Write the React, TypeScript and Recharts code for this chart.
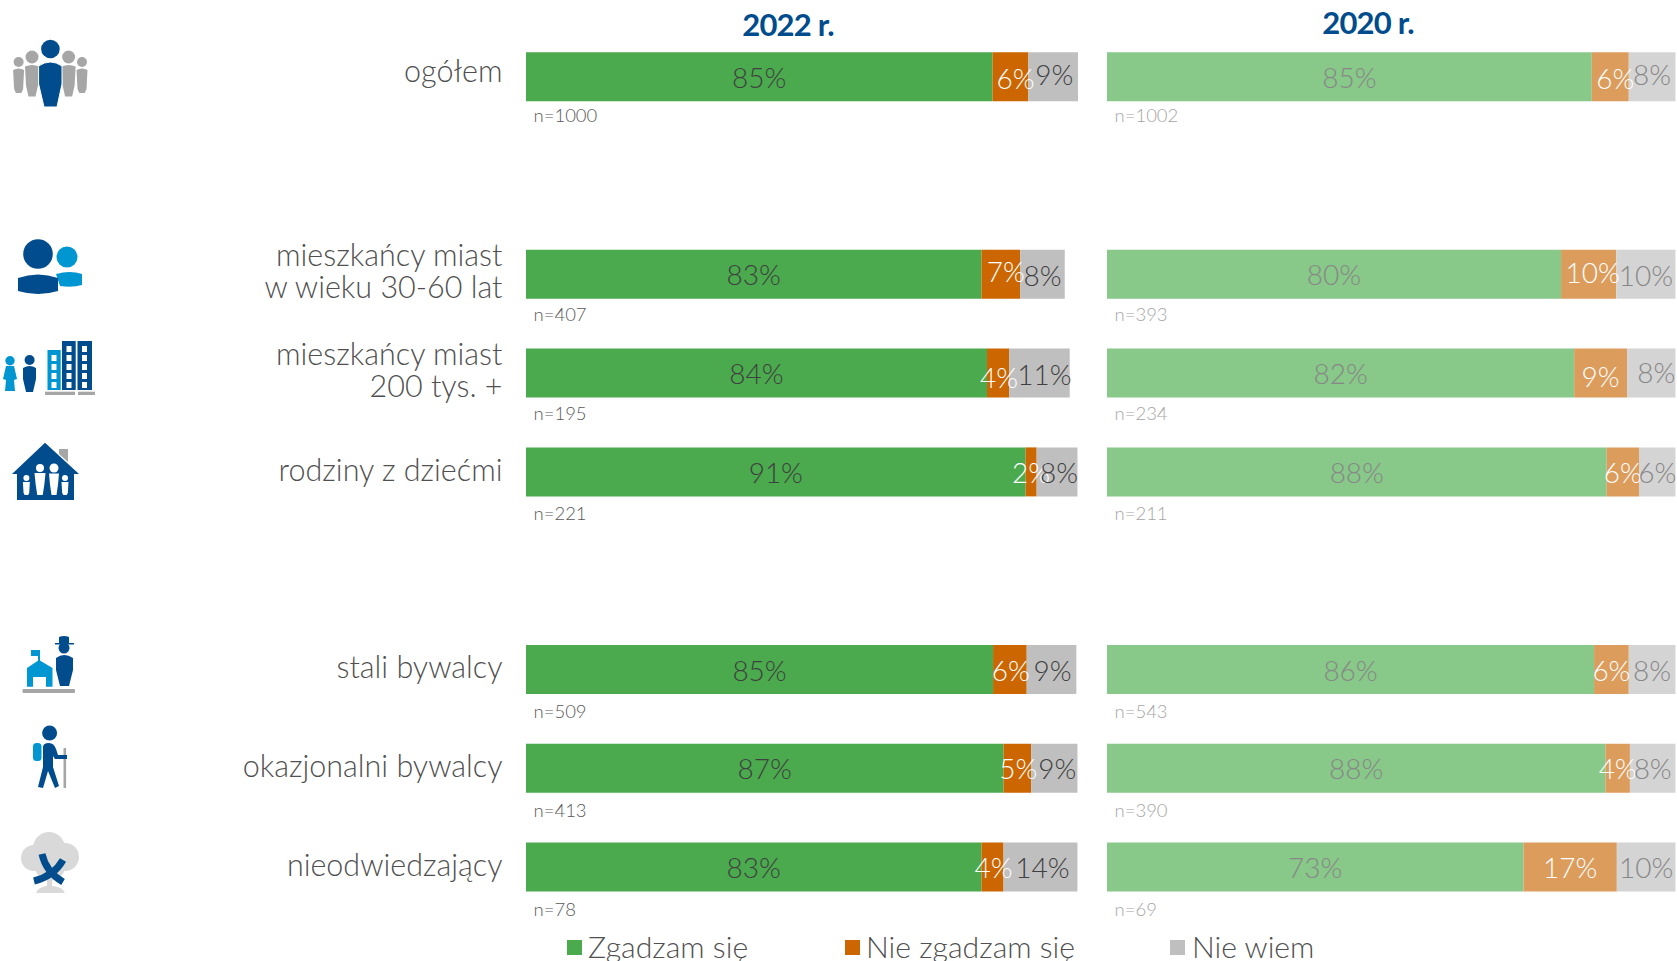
import { Bar, BarChart, LabelList, Legend, XAxis, YAxis } from 'recharts';

const FONT = 'Lato, "Open Sans", sans-serif';

// blank rows keep the gaps between the three groups
const categories = [
  'ogółem',
  ' ',
  'mieszkańcy miast\nw wieku 30-60 lat',
  'mieszkańcy miast\n200 tys. +',
  'rodziny z dziećmi',
  '  ',
  'stali bywalcy',
  'okazjonalni bywalcy',
  'nieodwiedzający',
];

const agree2022 = [84.6, null, 82.6, 83.6, 90.6, null, 84.7, 86.6, 82.6];
const disagree2022 = [6.5, null, 7.0, 4.0, 2.0, null, 6.1, 5.0, 4.0];
const dontKnow2022 = [9.0, null, 8.1, 11.0, 7.4, null, 9.0, 8.4, 13.4];
const agreeText2022 = ['85%', '', '83%', '84%', '91%', '', '85%', '87%', '83%'];
const disagreeText2022 = ['6%', '', '7%', '4%', '2%', '', '6%', '5%', '4%'];
const dontKnowText2022 = ['9%', '', '8%', '11%', '8%', '', '9%', '9%', '14%'];
const sample2022 = ['n=1000', '', 'n=407', 'n=195', 'n=221', '', 'n=509', 'n=413', 'n=78'];

const agree2020 = [85.2, null, 79.8, 82.1, 87.8, null, 85.6, 87.6, 73.2];
const disagree2020 = [6.5, null, 9.7, 9.3, 5.7, null, 6.1, 4.3, 16.4];
const dontKnow2020 = [8.2, null, 10.4, 8.5, 6.4, null, 8.2, 8.0, 10.3];
const agreeText2020 = ['85%', '', '80%', '82%', '88%', '', '86%', '88%', '73%'];
const disagreeText2020 = ['6%', '', '10%', '9%', '6%', '', '6%', '4%', '17%'];
const dontKnowText2020 = ['8%', '', '10%', '8%', '6%', '', '8%', '8%', '10%'];
const sample2020 = ['n=1002', '', 'n=393', 'n=234', 'n=211', '', 'n=543', 'n=390', 'n=69'];

const legendItems = [
  { label: 'Zgadzam się', color: '#4AAA4D', swatch: 567, text: 588 },
  { label: 'Nie zgadzam się', color: '#CC6600', swatch: 845, text: 866 },
  { label: 'Nie wiem', color: '#BFBFBF', swatch: 1170, text: 1192 },
];

// hand placed in the original, one entry per drawn bar (blank rows have none)
const sampleGap = [21, 22, 22, 24, 24, 24, 24];
const noNudge = [[0, 0], [0, 0], [0, 0], [0, 0], [0, 0], [0, 0], [0, 0]];
const disagreeNudge2022 = [[5, 1], [5, -3], [1, 4], [0, 0], [1, 0], [1, 0], [1, 0]];
const dontKnowNudge2022 = [[1, -3], [0, 1], [5, 1], [2, 0], [1, 0], [3, 0], [2, 0]];
const disagreeNudge2020 = [[5, 1], [4, -2], [0, 3], [0, 0], [0, 0], [0, 0], [0, 0]];
const dontKnowNudge2020 = [[0, -3], [0, 1], [5, -1], [0, 0], [0, 0], [0, 0], [0, 0]];

const rows2022 = categories.map((name, i) => ({
  name,
  agree: agree2022[i],
  disagree: disagree2022[i],
  dontKnow: dontKnow2022[i],
  agreeText: agreeText2022[i],
  disagreeText: disagreeText2022[i],
  dontKnowText: dontKnowText2022[i],
  sample: sample2022[i],
}));

const rows2020 = categories.map((name, i) => ({
  name,
  agree: agree2020[i],
  disagree: disagree2020[i],
  dontKnow: dontKnow2020[i],
  agreeText: agreeText2020[i],
  disagreeText: disagreeText2020[i],
  dontKnowText: dontKnowText2020[i],
  sample: sample2020[i],
}));

const BLUE = '#004C8C';
const SKY = '#0096D2';
const GREY = '#A6A6A6';

function PeopleIcon() {
  const side = (x: number, hy: number, r: number, w: number, bottom: number) => (
    <g fill={GREY}>
      <circle cx={x} cy={hy} r={r} />
      <path d={`M${x - w} ${hy + r + 3} Q${x} ${hy + r} ${x + w} ${hy + r + 3} L${x + w - 1} ${hy + r + 22} L${x + w * 0.5} ${bottom} L${x - w * 0.5} ${bottom} L${x - w + 1} ${hy + r + 22} Z`} />
    </g>
  );
  return (
    <g>
      {side(18.6, 62, 5, 5.5, 93)}
      {side(82, 62, 5, 5.5, 93)}
      {side(32, 57, 6.5, 7, 96.5)}
      {side(68.6, 57, 6.5, 7, 96.5)}
      <circle cx={50.4} cy={49} r={9.3} fill={BLUE} />
      <path d="M38.6 66 Q50.4 58 62 66 L62 84 L57 107 L44 107 L38.6 84 Z" fill={BLUE} stroke="#fff" strokeWidth={1} />
    </g>
  );
}

function UsersIcon() {
  return (
    <g>
      <circle cx={67} cy={257} r={10.5} fill={SKY} />
      <path d="M56 274 Q70 270 82 274 L82 285 Q72 288 60 286 Z" fill={SKY} />
      <circle cx={38} cy={254} r={14.8} fill={BLUE} />
      <path d="M18 278 Q38 271 58 278 L58 291 Q38 297 18 291 Z" fill={BLUE} />
    </g>
  );
}

function CityIcon() {
  const windows = (x: number, ys: number[]) =>
    ys.map((y) => <rect key={y} x={x} y={y} width={5} height={6} fill="#fff" />);
  return (
    <g>
      <circle cx={10} cy={360.7} r={4.7} fill={SKY} />
      <path d="M6 366 L14 366 L17 379 L14 380 L15 391 L5 391 L6 380 L3 379 Z" fill={SKY} />
      <circle cx={29.6} cy={360} r={5} fill={BLUE} />
      <path d="M23 368 Q29.6 364 36 368 L36 379 L33 392 L26 392 L23 379 Z" fill={BLUE} />
      <rect x={47.5} y={350} width={13.2} height={40} fill={SKY} />
      {windows(51.5, [355, 364, 373, 382])}
      <rect x={62} y={341} width={13.7} height={49} fill={BLUE} />
      {windows(66.5, [346, 355, 364, 373, 382])}
      <rect x={77.5} y={341} width={14.5} height={49} fill={BLUE} />
      {windows(82, [346, 355, 364, 373, 382])}
      <rect x={45} y={391.7} width={30} height={3.3} fill={GREY} />
      <rect x={78} y={391.7} width={17} height={3.3} fill={GREY} />
    </g>
  );
}

function HouseIcon() {
  const person = (x: number, hy: number, r: number, w: number) => (
    <g fill="#fff">
      <circle cx={x} cy={hy} r={r} />
      <path d={`M${x - w} ${hy + r + 1} L${x + w} ${hy + r + 1} L${x + w * 0.8} ${hy + r + 12} L${x + w * 0.5} 495 L${x - w * 0.5} 495 L${x - w * 0.8} ${hy + r + 12} Z`} />
    </g>
  );
  return (
    <g>
      <path d="M59 449 L68 449 L68 462 L59 454 Z" fill={GREY} />
      <path d="M45 442.7 L79 474 L74 474 L74 500 L17 500 L17 474 L12 474 Z" fill={BLUE} />
      {person(26.4, 478, 3, 3.5)}
      {person(40, 468, 4, 5.5)}
      {person(54, 468, 4.5, 5)}
      {person(65, 478, 3, 3.5)}
    </g>
  );
}

function RegularIcon() {
  return (
    <g>
      <rect x={22.5} y={689} width={52.5} height={4} rx={1} fill={GREY} />
      <path d="M27 686.7 L27 668 L39 660 L52.5 668 L52.5 686.7 L46 686.7 L46 677 L33 677 L33 686.7 Z" fill={SKY} />
      <rect x={38} y={650} width={2} height={12} fill={SKY} />
      <rect x={31} y={650} width={8} height={6} fill={SKY} />
      <path d="M59 643 L59 637 Q64 635 69 637 L69 643 L74 643 L74 644.5 L55 644.5 L55 643 Z" fill={BLUE} />
      <circle cx={64} cy={648} r={5.5} fill={BLUE} />
      <path d="M56 658 Q64 652 73 658 L73 670 L69 686 L60 686 L56 670 Z" fill={BLUE} />
    </g>
  );
}

function HikerIcon() {
  return (
    <g>
      <rect x={63.5} y={748} width={2.6} height={40} fill={GREY} />
      <rect x={33} y={743} width={8.5} height={18} rx={3.5} fill={SKY} />
      <circle cx={49.6} cy={733} r={7.5} fill={BLUE} />
      <path d="M43 747 Q43 743 49 743 Q54 743 56 749 L58 755 L67 755 L67 759 L55 759 L53 756 L53 767 L59 786 L55 788 L48 771 L43 788 L38 787 L43 767 Z" fill={BLUE} />
    </g>
  );
}

function TreeIcon() {
  return (
    <g>
      <g fill="#D9D9D9">
        <circle cx={49} cy={848} r={16} />
        <circle cx={34} cy={858} r={13} />
        <circle cx={65} cy={857} r={14} />
        <circle cx={50} cy={866} r={15} />
        <path d="M47 878 L52 878 L52 886 Q63 887 65 893 L36 893 Q38 887 47 886 Z" />
      </g>
      <path d="M42 854 Q46 872 63 882 M63 860 Q54 876 34 881" fill="none" stroke={BLUE} strokeWidth={7} />
    </g>
  );
}

function CategoryTick({ y, payload, index }: any) {
  const lines = String(payload.value).trim().split('\n').filter(Boolean);
  const shift = lines.length === 2 ? -8 : index === 0 ? 5 : 9;
  return (
    <text
      x={502.5}
      y={y + shift}
      textAnchor="end"
      fontFamily={FONT}
      fontWeight={300}
      fontSize={30.5}
      fill="#505050"
    >
      {lines.map((line, i) => (
        <tspan key={line} x={502.5} dy={i === 0 ? 0 : 32}>
          {line}
        </tspan>
      ))}
    </text>
  );
}

const pctLabel = (fill: string, nudge: number[][]) =>
  function PctLabel({ x, y, width, height, value, index }: any) {
    if (!value) return null;
    return (
      <text
        x={x + width / 2 + nudge[index][0]}
        y={y + height / 2 + 11 + nudge[index][1]}
        textAnchor="middle"
        fontFamily={FONT}
        fontWeight={300}
        fontSize={28}
        fill={fill}
      >
        {value}
      </text>
    );
  };

const sampleLabel = (fill: string) =>
  function SampleLabel({ x, y, height, value, index }: any) {
    if (!value) return null;
    return (
      <text x={x + 7.5} y={y + height + sampleGap[index]} fontFamily={FONT} fontWeight={300} fontSize={18.5} fill={fill}>
        {value}
      </text>
    );
  };

function ChartLegend() {
  return (
    <div style={{ position: 'relative', width: 1400, height: 40, fontFamily: FONT }}>
      {legendItems.map((item) => (
        <div key={item.label}>
          <div
            style={{
              position: 'absolute',
              left: item.swatch,
              top: 10,
              width: 15,
              height: 15,
              background: item.color,
            }}
          />
          <div
            style={{
              position: 'absolute',
              left: item.text,
              top: 0,
              fontSize: 30.2,
              fontWeight: 300,
              color: '#505050',
              whiteSpace: 'nowrap',
              lineHeight: '32px',
            }}
          >
            {item.label}
          </div>
        </div>
      ))}
    </div>
  );
}

export default function App() {
  return (
    <div style={{ position: 'absolute', left: 0, top: 0, width: 1677, height: 961, background: '#fff' }}>
      <div style={{ position: 'absolute', left: 0, top: 0 }}>
        <BarChart
          width={1090}
          height={961}
          layout="vertical"
          data={rows2022}
          margin={{ top: 27.2, right: 12, bottom: 44.6, left: 0 }}
          barSize={49}
        >
          <XAxis type="number" hide domain={[0, 100]} />
          <YAxis
            type="category"
            dataKey="name"
            width={526}
            interval={0}
            axisLine={false}
            tickLine={false}
            tick={CategoryTick}
          />
          <Legend
            layout="horizontal"
            verticalAlign="middle"
            align="center"
            content={ChartLegend}
            wrapperStyle={{ left: 0, top: 930, width: 1400 }}
          />
          <Bar dataKey="agree" stackId="a" fill="#4AAA4D" isAnimationActive={false}>
            <LabelList dataKey="agreeText" content={pctLabel('#404040', noNudge)} />
            <LabelList dataKey="sample" content={sampleLabel('#595959')} />
          </Bar>
          <Bar dataKey="disagree" stackId="a" fill="#CC6600" isAnimationActive={false}>
            <LabelList dataKey="disagreeText" content={pctLabel('#FFFFFF', disagreeNudge2022)} />
          </Bar>
          <Bar dataKey="dontKnow" stackId="a" fill="#BFBFBF" isAnimationActive={false}>
            <LabelList dataKey="dontKnowText" content={pctLabel('#404040', dontKnowNudge2022)} />
          </Bar>
          <text x={788} y={36} textAnchor="middle" fontFamily={FONT} fontWeight={700} fontSize={31} letterSpacing={-0.8} fill={BLUE}>
            2022 r.
          </text>
          <PeopleIcon />
          <UsersIcon />
          <CityIcon />
          <HouseIcon />
          <RegularIcon />
          <HikerIcon />
          <TreeIcon />
        </BarChart>
      </div>
      <div style={{ position: 'absolute', left: 1090, top: 0 }}>
        <BarChart
          width={587}
          height={961}
          layout="vertical"
          data={rows2020}
          margin={{ top: 27.2, right: 1, bottom: 44.6, left: 17 }}
          barSize={49}
        >
          <XAxis type="number" hide domain={[0, 100]} />
          <YAxis type="category" dataKey="name" hide interval={0} />
          <Bar dataKey="agree" stackId="a" fill="#88C889" isAnimationActive={false}>
            <LabelList dataKey="agreeText" content={pctLabel('#878787', noNudge)} />
            <LabelList dataKey="sample" content={sampleLabel('#A6A6A6')} />
          </Bar>
          <Bar dataKey="disagree" stackId="a" fill="#DC9C5C" isAnimationActive={false}>
            <LabelList dataKey="disagreeText" content={pctLabel('#FFFFFF', disagreeNudge2020)} />
          </Bar>
          <Bar dataKey="dontKnow" stackId="a" fill="#D4D4D4" isAnimationActive={false}>
            <LabelList dataKey="dontKnowText" content={pctLabel('#878787', dontKnowNudge2020)} />
          </Bar>
          <text x={278} y={34} textAnchor="middle" fontFamily={FONT} fontWeight={700} fontSize={31} letterSpacing={-0.8} fill={BLUE}>
            2020 r.
          </text>
        </BarChart>
      </div>
    </div>
  );
}
